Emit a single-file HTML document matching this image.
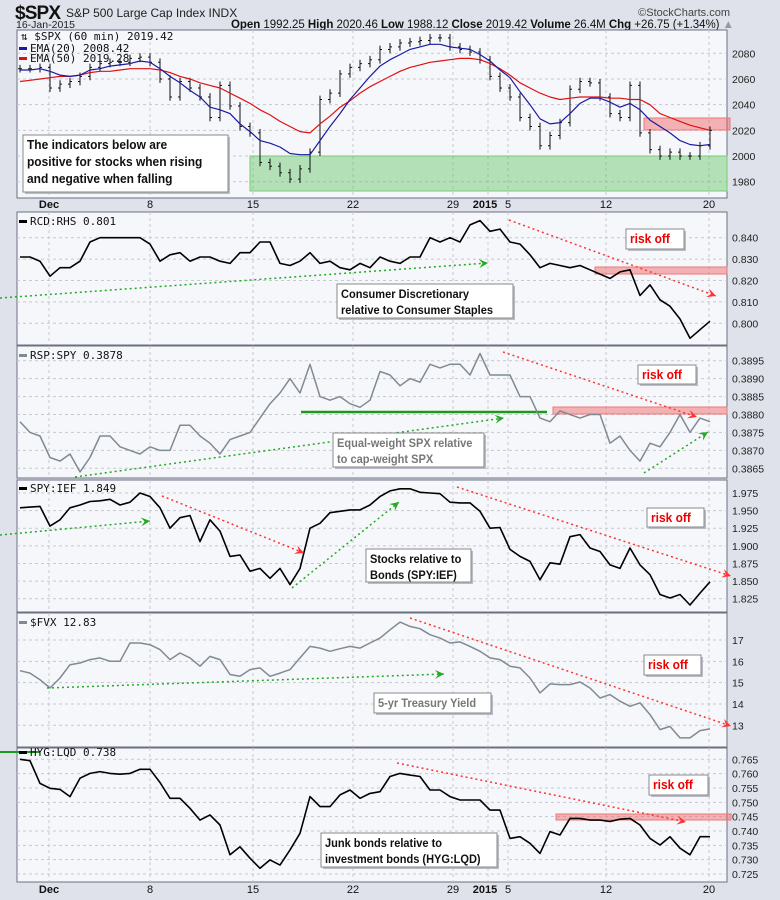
<!DOCTYPE html>
<html><head><meta charset="utf-8">
<style>
html,body{margin:0;padding:0;background:#dfe2ea;}
svg{display:block;font-family:"Liberation Sans",sans-serif;}
</style></head>
<body>
<svg id="chart" width="780" height="900" viewBox="0 0 780 900" xmlns="http://www.w3.org/2000/svg">
<rect x="0" y="0" width="780" height="900" fill="#dfe2ea"/>
<g>
<text x="15" y="19" font-size="19" font-weight="bold" fill="#111" textLength="46">$SPX</text>
<text x="66" y="17" font-size="12" fill="#222">S&amp;P 500 Large Cap Index INDX</text>
<text x="16" y="28" font-size="10.5" fill="#222">16-Jan-2015</text>
<text x="730" y="16" font-size="11" fill="#444" text-anchor="end">©StockCharts.com</text>
<text x="231" y="28" font-size="11.5" fill="#111" textLength="503"><tspan font-weight="bold">Open</tspan> 1992.25 <tspan font-weight="bold">High</tspan> 2020.46 <tspan font-weight="bold">Low</tspan> 1988.12 <tspan font-weight="bold">Close</tspan> 2019.42 <tspan font-weight="bold">Volume</tspan> 26.4M <tspan font-weight="bold">Chg</tspan> +26.75 (+1.34%) <tspan fill="#999">▲</tspan></text>
</g>
<g id="layer"></g>
</svg>
<script>
const dateLabels = ["Dec","8","15","22","29","2015","5","12","20"];
const spxClose = [2068,2068,2069,2053,2056,2058,2062,2069,2072,2073,2073,2076,2077,2073,2060,2046,2058,2053,2046,2030,2055,2039,2023,2018,1995,1992,1987,1982,1990,2003,2044,2049,2064,2069,2072,2075,2083,2085,2088,2089,2090,2092,2092,2085,2083,2081,2075,2062,2053,2046,2030,2023,2008,2016,2026,2052,2058,2057,2046,2033,2030,2055,2018,2005,2000,2003,2000,2000,2008,2020];
const ema20 = [2067,2067,2068,2066,2063,2062,2063,2067,2068,2070,2071,2072,2074,2073,2068,2062,2057,2051,2046,2038,2036,2033,2025,2019,2012,2010,2007,2002,2001,2001,2012,2023,2033,2044,2053,2062,2070,2075,2079,2083,2085,2087,2087,2085,2084,2083,2079,2074,2067,2061,2050,2040,2029,2025,2026,2033,2041,2045,2045,2042,2038,2041,2036,2028,2023,2018,2012,2009,2008,2009];
const ema50 = [2058,2059,2060,2061,2062,2062,2063,2065,2066,2066,2067,2068,2068,2068,2067,2065,2062,2060,2057,2055,2053,2049,2045,2041,2036,2032,2027,2023,2019,2018,2025,2031,2038,2043,2049,2054,2058,2062,2066,2069,2071,2073,2074,2075,2076,2076,2075,2072,2068,2063,2057,2053,2049,2046,2044,2045,2046,2046,2046,2045,2045,2044,2044,2040,2033,2030,2027,2024,2022,2020];
const rcdRhs = [0.831,0.831,0.829,0.822,0.826,0.826,0.829,0.838,0.840,0.840,0.840,0.840,0.840,0.837,0.829,0.832,0.833,0.829,0.831,0.831,0.829,0.828,0.833,0.833,0.838,0.838,0.828,0.827,0.829,0.833,0.828,0.829,0.826,0.825,0.828,0.826,0.831,0.829,0.828,0.831,0.831,0.840,0.838,0.840,0.838,0.846,0.848,0.843,0.844,0.838,0.837,0.832,0.826,0.828,0.827,0.826,0.827,0.825,0.823,0.821,0.824,0.825,0.813,0.818,0.811,0.808,0.802,0.793,0.797,0.801];
const rspSpy = [0.3878,0.3875,0.3874,0.3868,0.3867,0.3869,0.3864,0.3868,0.3874,0.3874,0.3871,0.3870,0.3869,0.3871,0.3870,0.3870,0.3877,0.3877,0.3874,0.3872,0.3869,0.3873,0.3874,0.3875,0.3879,0.3883,0.3886,0.3890,0.3886,0.3894,0.3885,0.3884,0.3885,0.3883,0.3882,0.3884,0.3892,0.3891,0.3888,0.3890,0.3889,0.3894,0.3893,0.3894,0.3894,0.3891,0.3897,0.3891,0.3891,0.3891,0.3885,0.3885,0.3879,0.3878,0.3881,0.3880,0.3879,0.3880,0.3880,0.3872,0.3874,0.3870,0.3867,0.3872,0.3871,0.3875,0.3880,0.3875,0.3879,0.3878];
const spyIef = [1.954,1.955,1.956,1.928,1.937,1.954,1.958,1.963,1.964,1.966,1.958,1.962,1.975,1.970,1.954,1.925,1.940,1.943,1.906,1.937,1.921,1.885,1.887,1.864,1.868,1.854,1.868,1.845,1.868,1.925,1.932,1.947,1.949,1.951,1.951,1.958,1.970,1.978,1.981,1.981,1.976,1.975,1.974,1.962,1.961,1.961,1.949,1.925,1.926,1.895,1.885,1.878,1.852,1.876,1.874,1.913,1.916,1.897,1.892,1.873,1.868,1.897,1.873,1.859,1.831,1.826,1.831,1.816,1.833,1.849];
const fvx = [15.56,15.45,15.14,14.75,15.22,15.84,15.92,16.08,16.16,16.0,16.0,16.86,16.86,16.78,16.55,16.08,16.39,16.16,15.77,16.23,16.08,15.38,15.30,15.61,15.69,15.30,15.45,15.61,16.16,16.70,16.62,16.47,16.59,16.70,16.62,16.86,17.09,17.48,17.84,17.64,17.53,17.25,17.09,16.86,16.91,16.70,16.47,16.16,16.08,15.77,15.69,15.22,14.52,14.94,14.91,14.91,15.03,14.75,14.28,14.44,14.13,13.89,14.05,13.5,12.8,12.95,12.41,12.41,12.75,12.83];
const hygLqd = [0.765,0.7645,0.7566,0.7549,0.7545,0.752,0.7584,0.7601,0.7607,0.7601,0.7598,0.7601,0.7615,0.7615,0.7569,0.7514,0.7514,0.7479,0.7438,0.7456,0.7421,0.7317,0.7345,0.7305,0.7270,0.7299,0.7281,0.7334,0.7392,0.752,0.7485,0.7485,0.7526,0.7543,0.7514,0.7531,0.7537,0.7590,0.7601,0.7595,0.7590,0.7543,0.7543,0.752,0.7508,0.7508,0.7508,0.7473,0.7473,0.7374,0.7380,0.7357,0.7322,0.7398,0.7386,0.7444,0.7444,0.7438,0.7438,0.7433,0.7441,0.7444,0.7421,0.7374,0.7351,0.7380,0.7340,0.7317,0.7380,0.7380];
const spxTicks = [1980,2000,2020,2040,2060,2080];
const rcdTicks = [0.800,0.810,0.820,0.830,0.840];
const rspTicks = [0.3865,0.3870,0.3875,0.3880,0.3885,0.3890,0.3895];
const iefTicks = [1.825,1.850,1.875,1.900,1.925,1.950,1.975];
const fvxTicks = [13,14,15,16,17];
const hygTicks = [0.725,0.730,0.735,0.740,0.745,0.750,0.755,0.760,0.765];

const NS="http://www.w3.org/2000/svg";
const layer=document.getElementById('layer');
const PL=17, PR=727;
const dateX=[49,150,253,353,453,488,508,606,709];
function mk(tag,attrs,parent){const e=document.createElementNS(NS,tag);for(const k in attrs)e.setAttribute(k,attrs[k]);(parent||layer).appendChild(e);return e;}
function xAt(i,n){return 20+i*(690/(n-1));}
function yScale(v0,y0,v1,y1){return v=>y0+(v-v0)*(y1-y0)/(v1-v0);}

function panel(name,top,bot,ticks,fmt,ys){
  const g=mk('g',{});
  
  
  mk('rect',{x:PL,y:top,width:PR-PL,height:bot-top,fill:'#f6f7fb',stroke:'#6b7080','stroke-width':1},g);
  dateX.forEach(x=>mk('line',{x1:x,y1:top,x2:x,y2:bot,stroke:'#c6c9d2','stroke-dasharray':'3,3'},g));
  ticks.forEach(t=>{const y=ys(t);
    mk('line',{x1:PL,y1:y,x2:PR,y2:y,stroke:'#c6c9d2','stroke-dasharray':'3,3'},g);
    const tx=mk('text',{x:PR+5,y:y+4,'font-size':10.5,fill:'#222'},g);tx.textContent=fmt(t);
    
    
  });
  return g;
}
function line(arr,ys,color,w,name,g){
  const d=arr.map((v,i)=>(i?'L':'M')+xAt(i,arr.length).toFixed(1)+','+ys(v).toFixed(1)).join('');
  const p=mk('path',{d:d,fill:'none',stroke:color,'stroke-width':w,'stroke-linejoin':'round'},g);
  
  
}
function dateAxis(y,name){
  const g=mk('g',{});
  
  
  dateLabels.forEach((d,i)=>{const t=mk('text',{x:dateX[i]+(d==='2015'?-3:0),y:y,'font-size':11,'text-anchor':'middle',fill:'#111','font-weight':(d==='Dec'||d==='2015')?'bold':'normal'},g);t.textContent=d;});
}
function box(x,y,w,h,lines,color,name,size){
  const g=mk('g',{});
  
  
  mk('rect',{x:x+2,y:y+2,width:w,height:h,fill:'#b9bcc4'},g);
  mk('rect',{x:x,y:y,width:w,height:h,fill:'#fff',stroke:'#888'},g);
  lines.forEach((s,i)=>{const t=mk('text',{x:x+4,y:y+14+i*(size+4),'font-size':size,'font-weight':'bold',fill:color,transform:`translate(${(x+4)*0.08},0) scale(0.92,1)`},g);t.textContent=s;});
}
function dotted(x1,y1,x2,y2,color,name){
  const l=mk('line',{x1:x1,y1:y1,x2:x2,y2:y2,stroke:color,'stroke-width':1.5,'stroke-dasharray':'2,3'});
  
  
  const a=Math.atan2(y2-y1,x2-x1),s=9;
  const p=[[x2,y2],[x2-s*Math.cos(a)+s*0.5*Math.sin(a),y2-s*Math.sin(a)-s*0.5*Math.cos(a)],[x2-s*0.6*Math.cos(a),y2-s*0.6*Math.sin(a)],[x2-s*Math.cos(a)-s*0.5*Math.sin(a),y2-s*Math.sin(a)+s*0.5*Math.cos(a)]];
  const h=mk('polygon',{points:p.map(q=>q.join(',')).join(' '),fill:color});
  
  
}
function legend(x,y,color,txt,name){
  mk('rect',{x:x,y:y-5,width:8,height:3,fill:color});
  const t=mk('text',{x:x+11,y:y,'font-size':11,fill:'#111','font-family':'DejaVu Sans Mono, monospace'});t.textContent=txt;
  
  
}

const y1=yScale(2080,53.3,1980,181.7);
const g1=panel('spx-panel',30,198,spxTicks,v=>v,y1);
mk('rect',{x:250,y:156,width:477,height:35,fill:'rgba(80,190,80,0.4)',stroke:'#7c7'},g1);
mk('rect',{x:644,y:118,width:86,height:12,fill:'rgba(240,90,90,0.45)',stroke:'#e77'},g1);
spxClose.forEach((c,i)=>{const x=xAt(i,spxClose.length);const o=i?spxClose[i-1]:c;
  const hi=Math.max(o,c)+3, lo=Math.min(o,c)-3;
  const b=mk('path',{d:`M${x},${y1(hi)}V${y1(lo)}M${x-2},${y1(o)}H${x}M${x},${y1(c)}H${x+2}`,stroke:'#111','stroke-width':1,fill:'none'},g1);
  
  
});
line(ema50,y1,'#e01010',1.2,'ema50-line',g1);
line(ema20,y1,'#1a1aa0',1.2,'ema20-line',g1);
box(23,135,205,57,['The indicators below are','positive for stocks when rising','and negative when falling'],'#111','spx-note-box',13);
mk('text',{x:21,y:40,'font-size':11,fill:'#111','font-family':'DejaVu Sans Mono, monospace'}).textContent='⇅ $SPX (60 min) 2019.42';
legend(19,52,'#1a1aa0','EMA(20) 2008.42','ema20-legend');
legend(19,62,'#e01010','EMA(50) 2019.28','ema50-legend');
dateAxis(208,'x-axis-top');

const y2=yScale(0.840,237.7,0.800,323.3);
const g2=panel('rcd-rhs-panel',212,345,rcdTicks,v=>v.toFixed(3),y2);
mk('rect',{x:595,y:267,width:132,height:7,fill:'rgba(240,90,90,0.45)',stroke:'#e77'},g2);
line(rcdRhs,y2,'#000',1.6,'rcd-rhs-line',g2);
legend(19,225,'#000','RCD:RHS 0.801','rcd-rhs-legend');
dotted(0,298,488,263,'#2a2','rcd-support-trend');
dotted(509,220,716,296,'#f33','rcd-down-trend');
box(337,284,176,34,['Consumer Discretionary','relative to Consumer Staples'],'#111','rcd-note-box',12);
box(626,229,58,20,['risk off'],'#e00','rcd-risk-off',13);

const y3=yScale(0.3895,360.7,0.3865,468.3);
const g3=panel('rsp-spy-panel',346,478,rspTicks,v=>v.toFixed(4),y3);
mk('rect',{x:553,y:407,width:174,height:7,fill:'rgba(240,90,90,0.45)',stroke:'#e77'},g3);
mk('line',{x1:301,y1:412,x2:547,y2:412,stroke:'#1a9a1a','stroke-width':2.5},g3);
line(rspSpy,y3,'#7f8a92',1.5,'rsp-spy-line',g3);
legend(19,359,'#7f8a92','RSP:SPY 0.3878','rsp-spy-legend');
dotted(75,477,504,418,'#2a2','rsp-support-trend');
dotted(644,473,708,432,'#2a2','rsp-recent-trend');
dotted(503,352,697,417,'#f33','rsp-down-trend');
box(333,433,151,34,['Equal-weight SPX relative','to cap-weight SPX'],'#777','rsp-note-box',12);
box(638,365,58,19,['risk off'],'#e00','rsp-risk-off',13);

const y4=yScale(1.975,493,1.825,598.7);
const g4=panel('spy-ief-panel',480,612,iefTicks,v=>v.toFixed(3),y4);
line(spyIef,y4,'#000',1.6,'spy-ief-line',g4);
legend(19,492,'#000','SPY:IEF 1.849','spy-ief-legend');
dotted(0,535,150,521,'#2a2','ief-trend-1');
dotted(292,588,399,502,'#2a2','ief-trend-2');
dotted(162,496,304,553,'#f33','ief-down-1');
dotted(457,487,731,576,'#f33','ief-down-2');
box(366,549,105,33,['Stocks relative to','Bonds (SPY:IEF)'],'#111','ief-note-box',12);
box(647,508,57,19,['risk off'],'#e00','ief-risk-off',13);

const y5=yScale(17,640,13,725.3);
const g5=panel('fvx-panel',613,747,fvxTicks,v=>v,y5);
line(fvx,y5,'#7f8a92',1.5,'fvx-line',g5);
legend(19,626,'#7f8a92','$FVX 12.83','fvx-legend');
dotted(47,688,444,674,'#2a2','fvx-support-trend');
dotted(410,618,731,726,'#f33','fvx-down-trend');
box(374,693,117,20,['5-yr Treasury Yield'],'#777','fvx-note-box',12);
box(644,655,57,20,['risk off'],'#e00','fvx-risk-off',13);

const y6=yScale(0.765,759.3,0.725,874);
const g6=panel('hyg-lqd-panel',748,882,hygTicks,v=>v.toFixed(3),y6);
mk('rect',{x:556,y:814,width:175,height:6,fill:'rgba(240,90,90,0.45)',stroke:'#e77'},g6);
line(hygLqd,y6,'#000',1.6,'hyg-lqd-line',g6);
mk('line',{x1:0,y1:752,x2:40,y2:752,stroke:'#1a9a1a','stroke-width':2});
legend(19,756,'#000','HYG:LQD 0.738','hyg-lqd-legend');
dotted(397,763,686,822,'#f33','hyg-down-trend');
box(321,833,176,34,['Junk bonds relative to','investment bonds (HYG:LQD)'],'#111','hyg-note-box',12);
box(649,775,59,20,['risk off'],'#e00','hyg-risk-off',13);
dateAxis(893,'x-axis-bottom');
</script>
</body></html>
